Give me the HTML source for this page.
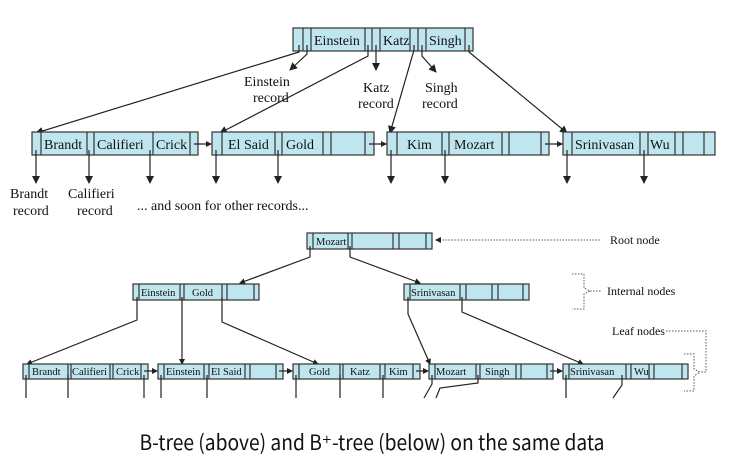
<!DOCTYPE html>
<html><head><meta charset="utf-8"><style>
html,body{margin:0;padding:0;background:#fff;width:734px;height:468px;overflow:hidden}
svg{display:block}
.n{fill:#bfe5ef;stroke:#333;stroke-width:1.2}
.d{stroke:#333;stroke-width:1.2}
.t{font-family:"Liberation Serif",serif;font-size:14px;fill:#111}
.s{font-family:"Liberation Serif",serif;font-size:10.5px;fill:#111}
.l{stroke:#222;stroke-width:1.2;fill:none}
.dot{stroke:#555;stroke-width:1;stroke-dasharray:1.5 1.5;fill:none}
</style></head><body>
<svg width="734" height="468" viewBox="0 0 734 468">
<defs>
<marker id="a" markerWidth="8" markerHeight="8" refX="7" refY="4" orient="auto" markerUnits="userSpaceOnUse"><path d="M0,0 L8,4 L0,8 Z" fill="#222"/></marker>
<marker id="b" markerWidth="6" markerHeight="6" refX="5" refY="3" orient="auto" markerUnits="userSpaceOnUse"><path d="M0,0 L6,3 L0,6 Z" fill="#222"/></marker>
</defs>
<rect class="n" x="293" y="28" width="180" height="23"/>
<path class="d" d="M303 28V51M311 28V51M365 28V51M372 28V51M380 28V51M410 28V51M418 28V51M426 28V51M465 28V51"/>
<text class="t" x="314" y="45">Einstein</text><text class="t" x="383" y="45">Katz</text><text class="t" x="429" y="45">Singh</text>
<path class="l" d="M299 45V52L36 133" marker-end="url(#a)"/>
<path class="l" d="M307 45V54L290 70" marker-end="url(#a)"/>
<path class="l" d="M368 45V56L220 133" marker-end="url(#a)"/>
<path class="l" d="M376 45V70" marker-end="url(#a)"/>
<path class="l" d="M414 45V50L390 133" marker-end="url(#a)"/>
<path class="l" d="M422 45V56L436 72" marker-end="url(#a)"/>
<path class="l" d="M469 45V52L567 133" marker-end="url(#a)"/>
<text class="t" x="244" y="86">Einstein</text><text class="t" x="253" y="102">record</text>
<text class="t" x="363" y="92">Katz</text><text class="t" x="358" y="108">record</text>
<text class="t" x="425" y="92">Singh</text><text class="t" x="422" y="108">record</text>
<rect class="n" x="32" y="132" width="166" height="23"/>
<path class="d" d="M41 132V155M87 132V155M94 132V155M153 132V155M190 132V155"/>
<text class="t" x="44" y="149">Brandt</text><text class="t" x="97" y="149">Califieri</text><text class="t" x="156" y="149">Crick</text>
<rect class="n" x="212" y="132" width="162" height="23"/>
<path class="d" d="M222 132V155M275 132V155M282 132V155M323 132V155M331 132V155M365 132V155"/>
<text class="t" x="228" y="149">El Said</text><text class="t" x="286" y="149">Gold</text>
<rect class="n" x="387" y="132" width="162" height="23"/>
<path class="d" d="M397 132V155M442 132V155M449 132V155M502 132V155M509 132V155M541 132V155"/>
<text class="t" x="407" y="149">Kim</text><text class="t" x="454" y="149">Mozart</text>
<rect class="n" x="563" y="132" width="152" height="23"/>
<path class="d" d="M572 132V155M640 132V155M648 132V155M675 132V155M683 132V155M704 132V155"/>
<text class="t" x="575" y="149">Srinivasan</text><text class="t" x="650" y="149">Wu</text>
<path class="l" d="M194 144H211" marker-end="url(#b)"/>
<path class="l" d="M369 144H386" marker-end="url(#b)"/>
<path class="l" d="M545 144H562" marker-end="url(#b)"/>
<path class="l" d="M36 150V183" marker-end="url(#a)"/><path class="l" d="M89 150V183" marker-end="url(#a)"/><path class="l" d="M150 150V183" marker-end="url(#a)"/><path class="l" d="M216 150V183" marker-end="url(#a)"/><path class="l" d="M278 150V183" marker-end="url(#a)"/><path class="l" d="M391 150V183" marker-end="url(#a)"/><path class="l" d="M445 150V183" marker-end="url(#a)"/><path class="l" d="M567 150V183" marker-end="url(#a)"/><path class="l" d="M644 150V183" marker-end="url(#a)"/>
<text class="t" x="10" y="198">Brandt</text><text class="t" x="13" y="215">record</text>
<text class="t" x="68" y="198">Califieri</text><text class="t" x="77" y="215">record</text>
<text class="t" x="137" y="210">... and soon for other records...</text>
<rect class="n" x="307" y="233" width="125" height="16"/>
<path class="d" d="M313 233V249M348 233V249M352 233V249M393 233V249M399 233V249M426 233V249"/>
<text class="s" x="316" y="245">Mozart</text>
<rect class="n" x="133" y="284" width="126" height="16"/>
<path class="d" d="M139 284V300M180 284V300M184 284V300M222 284V300M227 284V300M254 284V300"/>
<text class="s" x="141" y="296">Einstein</text><text class="s" x="192" y="296">Gold</text>
<rect class="n" x="404" y="284" width="125" height="16"/>
<path class="d" d="M410 284V300M460 284V300M466 284V300M492 284V300M498 284V300M523 284V300"/>
<text class="s" x="411" y="296">Srinivasan</text>
<path class="l" d="M310 246V257L240 283" marker-end="url(#b)"/>
<path class="l" d="M350 246V257L420 283" marker-end="url(#b)"/>
<path class="l" d="M137 297V320L27 364" marker-end="url(#b)"/>
<path class="l" d="M182 297V364" marker-end="url(#b)"/>
<path class="l" d="M222 297V322L318 364" marker-end="url(#b)"/>
<path class="l" d="M408 297V314L430 364" marker-end="url(#b)"/>
<path class="l" d="M462 297V312L583 364" marker-end="url(#b)"/>
<rect class="n" x="23" y="364" width="125" height="15"/>
<path class="d" d="M29 364V379M68 364V379M71 364V379M110 364V379M113 364V379M141 364V379"/>
<text class="s" x="32" y="375">Brandt</text><text class="s" x="72" y="375">Califieri</text><text class="s" x="116" y="375">Crick</text>
<rect class="n" x="158" y="364" width="125" height="15"/>
<path class="d" d="M164 364V379M204 364V379M209 364V379M245 364V379M250 364V379M276 364V379"/>
<text class="s" x="166" y="375">Einstein</text><text class="s" x="211" y="375">El Said</text>
<rect class="n" x="293" y="364" width="127" height="15"/>
<path class="d" d="M299 364V379M340 364V379M343 364V379M380 364V379M385 364V379M413 364V379"/>
<text class="s" x="309" y="375">Gold</text><text class="s" x="350" y="375">Katz</text><text class="s" x="389" y="375">Kim</text>
<rect class="n" x="429" y="364" width="124" height="15"/>
<path class="d" d="M435 364V379M476 364V379M480 364V379M516 364V379M521 364V379M547 364V379"/>
<text class="s" x="436" y="375">Mozart</text><text class="s" x="485" y="375">Singh</text>
<rect class="n" x="563" y="364" width="125" height="15"/>
<path class="d" d="M569 364V379M626 364V379M631 364V379M649 364V379M654 364V379M682 364V379"/>
<text class="s" x="570" y="375">Srinivasan</text><text class="s" x="634" y="375">Wu</text>
<path class="l" d="M144 371H157" marker-end="url(#b)"/>
<path class="l" d="M279 371H292" marker-end="url(#b)"/>
<path class="l" d="M416 371H428" marker-end="url(#b)"/>
<path class="l" d="M550 371H562" marker-end="url(#b)"/>
<path class="l" d="M26 375V398M68 375V398M144 375V398M161 375V398M207 375V398M296 375V398M340 375V398M383 375V398M566 375V398"/>
<path class="l" d="M432 375V384L424 398M478 375V383L440 388L436 398M622 375V385L613 398"/>
<path class="dot" d="M600 240H436" marker-end="url(#b)"/>
<text class="s" x="610" y="244" style="font-size:12px">Root node</text>
<path class="dot" d="M572 274H584V288L590 291L584 294V309H572"/>
<path class="dot" d="M590 291H602"/>
<text class="s" x="607" y="295" style="font-size:12px">Internal nodes</text>
<text class="s" x="612" y="335" style="font-size:12px">Leaf nodes</text>
<path class="dot" d="M666 331H706V372H700"/>
<path class="dot" d="M684 354H694V369L700 372L694 376V391H684"/>
<text x="372" y="450" text-anchor="middle" textLength="465" lengthAdjust="spacingAndGlyphs" style="font-family:'Noto Sans CJK KR','Liberation Sans',sans-serif;font-size:21px;fill:#111">B-tree (above) and B⁺-tree (below) on the same data</text>
</svg>
</body></html>
